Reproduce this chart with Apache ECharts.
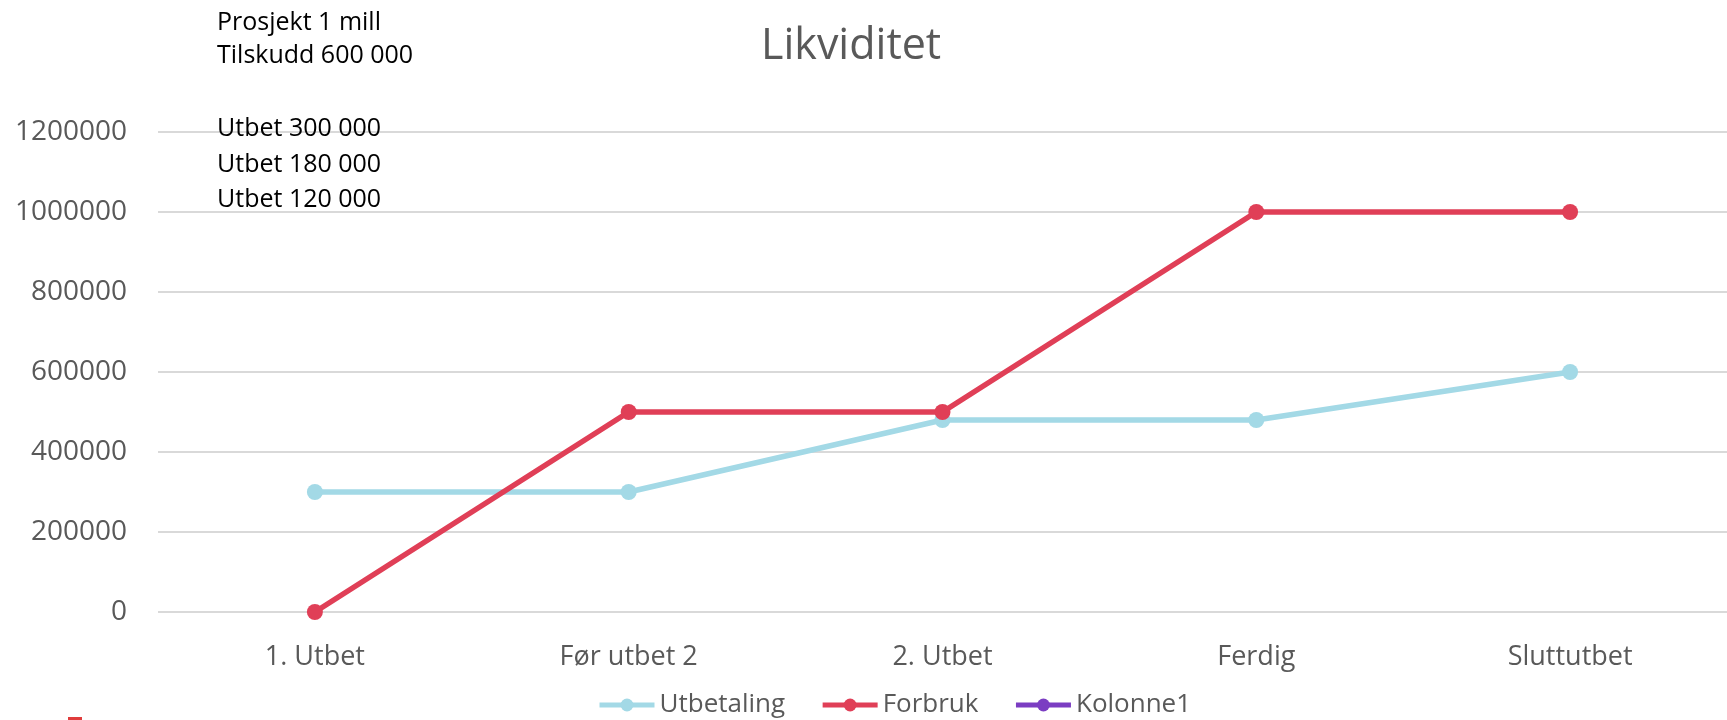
<!DOCTYPE html>
<html>
<head>
<meta charset="utf-8">
<script src="https://cdn.jsdelivr.net/npm/echarts@6/dist/echarts.min.js"></script>
<style>html,body{margin:0;padding:0;background:#fff}#c{width:1727px;height:720px}</style>
</head>
<body>
<div id="c"></div>
<script>
const categories = ['1. Utbet', 'Før utbet 2', '2. Utbet', 'Ferdig', 'Sluttutbet'];
const utbetaling = [300000, 300000, 480000, 480000, 600000];
const forbruk = [0, 500000, 500000, 1000000, 1000000];
const kolonne1 = [];
const noteLines = ['Prosjekt 1 mill', 'Tilskudd 600 000', 'Utbet 300 000', 'Utbet 180 000', 'Utbet 120 000'];
const noteTops = [10, 43, 116, 152, 187];

const FONT = '"Open Sans", sans-serif';
const chart = echarts.init(document.getElementById('c'), null, {renderer: 'canvas'});
const mk = (name, data, color) => ({
  name, type: 'line', data,
  symbol: 'circle', symbolSize: 16,
  lineStyle: {color, width: 5.5},
  itemStyle: {color},
  animation: false
});
chart.setOption({
  animation: false,
  title: {
    text: 'Likviditet', left: 756, top: 20,
    textStyle: {fontFamily: FONT, fontSize: 43, fontWeight: 'normal', color: '#595959'}
  },
  grid: {left: 158, right: -1, top: 132, bottom: 108},
  legend: {
    left: 592, top: 687,
    itemWidth: 55, itemHeight: 16, itemGap: 35,
    lineStyle: {width: 5},
    textStyle: {fontFamily: FONT, fontSize: 26, color: '#595959'},
    data: ['Utbetaling', 'Forbruk', 'Kolonne1']
  },
  xAxis: {
    type: 'category', data: categories, boundaryGap: true,
    axisLine: {show: false}, axisTick: {show: false},
    axisLabel: {fontFamily: FONT, fontSize: 27, color: '#595959', margin: 32}
  },
  yAxis: {
    type: 'value', min: 0, max: 1200000, interval: 200000,
    axisLine: {show: false}, axisTick: {show: false},
    axisLabel: {fontFamily: FONT, fontSize: 28, color: '#595959', margin: 31, formatter: v => String(v)},
    splitLine: {lineStyle: {color: '#D9D9D9', width: 2}}
  },
  graphic: noteLines.map((t, i) => ({
    type: 'text', left: 217, top: noteTops[i], z: 100,
    style: {text: t, font: '25px "Open Sans", sans-serif', fill: '#000'}
  })).concat([{type: 'rect', shape: {x: 68, y: 717, width: 14, height: 3}, style: {fill: '#E03C3C'}}]),
  series: [
    mk('Utbetaling', utbetaling, '#A3D9E6'),
    mk('Forbruk', forbruk, '#E03F57'),
    mk('Kolonne1', kolonne1, '#7B3DC2')
  ]
});
</script>
</body>
</html>
